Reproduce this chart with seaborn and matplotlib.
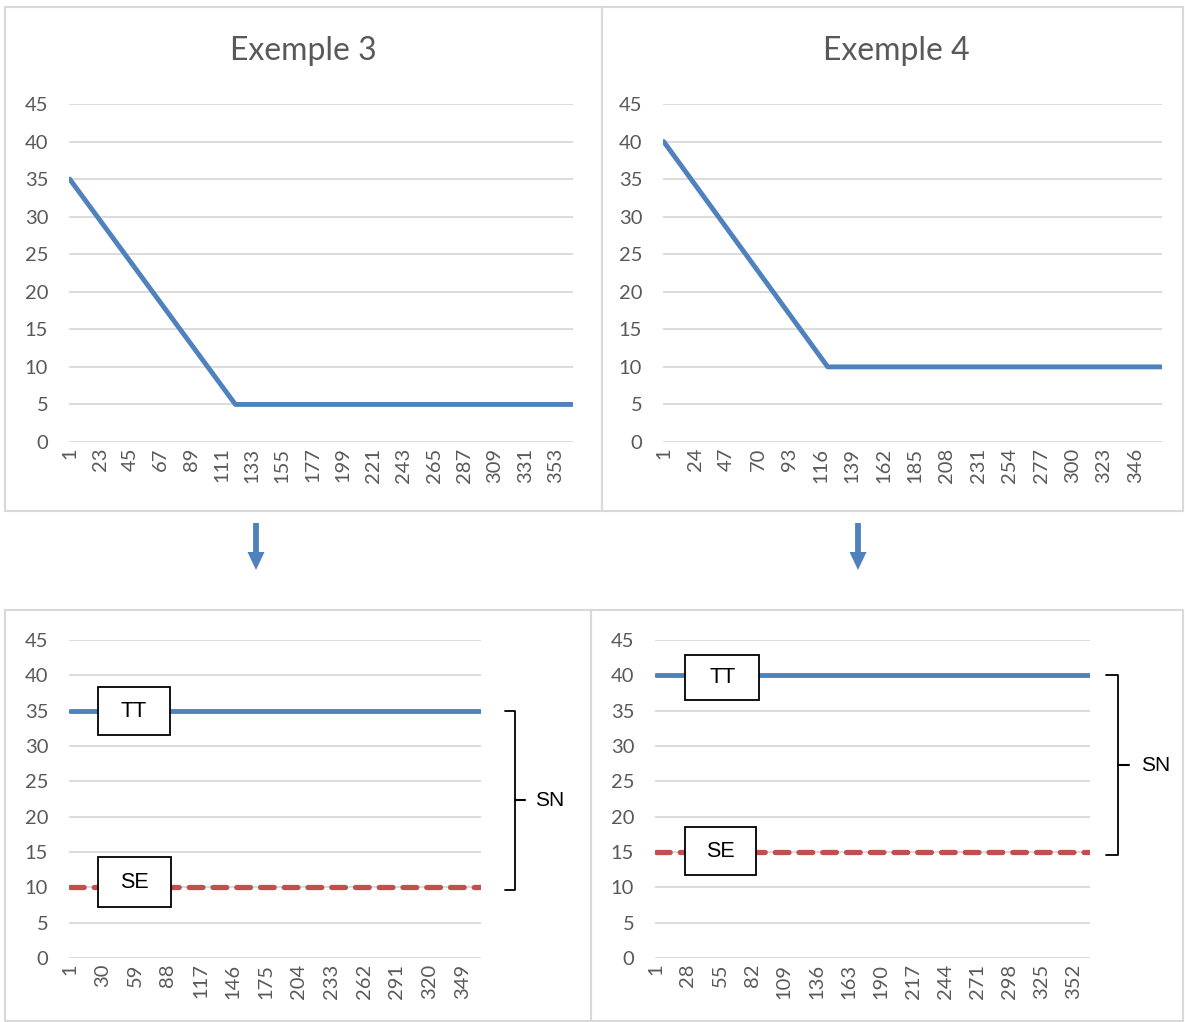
import numpy as np
import pandas as pd
import seaborn as sns
import matplotlib.pyplot as plt
from matplotlib.patches import Rectangle, FancyArrow
from matplotlib import transforms

# data (vertices of each line, day index 1..365)
ex3_days = [1, 121, 365]
ex3_values = [35, 5, 5]
ex4_days = [1, 121, 365]
ex4_values = [40, 10, 10]

flat_days = [1, 365]
ex3_tt = [35, 35]
ex3_se = [10, 10]
ex4_tt = [40, 40]
ex4_se = [15, 15]

# category labels shown on the x axes
ex3_top_ticks = [1, 23, 45, 67, 89, 111, 133, 155, 177, 199, 221, 243, 265, 287, 309, 331, 353]
ex4_top_ticks = [1, 24, 47, 70, 93, 116, 139, 162, 185, 208, 231, 254, 277, 300, 323, 346]
ex3_bot_ticks = [1, 30, 59, 88, 117, 146, 175, 204, 233, 262, 291, 320, 349]
ex4_bot_ticks = [1, 28, 55, 82, 109, 136, 163, 190, 217, 244, 271, 298, 325, 352]
y_ticks = [0, 5, 10, 15, 20, 25, 30, 35, 40, 45]

titles = ['Exemple 3', 'Exemple 4']

BLUE = '#4F81BD'
RED = '#C0504D'
GREY_TXT = '#595959'
GRID = '#D9D9D9'

sns.set_theme(style='white')
plt.rcParams['font.family'] = ['Lato', 'DejaVu Sans']

W, H = 1185, 1022
fig = plt.figure(figsize=(W / 100, H / 100), dpi=100)


def px_box(x0, y0, x1, y1):
    # pixel box (top-left origin) -> figure fraction [left, bottom, width, height]
    return [x0 / W, 1 - y1 / H, (x1 - x0) / W, (y1 - y0) / H]


def style_axis(ax, ticks):
    ax.set_xlim(0.5, 365.5)
    ax.set_ylim(0, 45)
    ax.set_yticks(y_ticks)
    ax.set_xticks(ticks)
    ax.set_xticklabels([str(t) for t in ticks], rotation=90)
    ax.tick_params(axis='y', length=0, pad=15, labelsize=14.5, labelcolor=GREY_TXT)
    ax.tick_params(axis='x', length=0, pad=4, labelsize=14.5, labelcolor=GREY_TXT)
    ax.yaxis.grid(True, color=GRID, linewidth=1.3)
    ax.xaxis.grid(False)
    ax.set_axisbelow(True)
    for s in ax.spines.values():
        s.set_visible(False)
    ax.set_xlabel('')
    ax.set_ylabel('')
    ax.patch.set_alpha(0)


# panel frames
for (x0, y0, x1, y1) in [(5, 7, 602, 511), (602, 7, 1183, 511), (5, 610, 591, 1021), (591, 610, 1183, 1021)]:
    fig.patches.append(Rectangle((x0 / W, 1 - y1 / H), (x1 - x0) / W, (y1 - y0) / H,
                                 transform=fig.transFigure, fill=False,
                                 edgecolor=GRID, linewidth=1.5, zorder=0))

# top charts
ax1 = fig.add_axes(px_box(69, 104, 573, 442))
ax2 = fig.add_axes(px_box(663, 104, 1162, 442))
top = [(ax1, ex3_days, ex3_values, ex3_top_ticks), (ax2, ex4_days, ex4_values, ex4_top_ticks)]
for ax, d, v, t in top:
    sns.lineplot(x=d, y=v, ax=ax, color=BLUE, linewidth=3.5, solid_capstyle='round')
    style_axis(ax, t)

fig.text(303 / W, 1 - 51 / H, titles[0], ha='center', va='center', fontsize=23, color=GREY_TXT)
fig.text(896 / W, 1 - 51 / H, titles[1], ha='center', va='center', fontsize=23, color=GREY_TXT)

# arrows between the rows
for xc in [256, 858]:
    fig.patches.append(FancyArrow(xc / W, 1 - 523 / H, 0, -(570 - 523) / H,
                                  width=5 / H, head_width=17 / W, head_length=18 / H,
                                  length_includes_head=True, transform=fig.transFigure,
                                  color=BLUE, linewidth=0))

# bottom charts
ax3 = fig.add_axes(px_box(69, 640, 481, 958))
ax4 = fig.add_axes(px_box(655, 640, 1090, 958))

bottom = [
    (ax3, ex3_tt, ex3_se, ex3_bot_ticks,
     [(26.6, 31.6, 63, 6.7, 'TT'), (26.6, 7.2, 64, 7.1, 'SE')],
     (1.058, 1.083, 1.107, 1.131)),
    (ax4, ex4_tt, ex4_se, ex4_bot_ticks,
     [(26, 36.5, 62, 6.4, 'TT'), (26, 11.7, 59, 6.8, 'SE')],
     (1.037, 1.064, 1.090, 1.117)),
]

for ax, tt, se, t, boxes, br in bottom:
    sns.lineplot(x=flat_days, y=tt, ax=ax, color=BLUE, linewidth=3.5, solid_capstyle='round')
    sns.lineplot(x=flat_days, y=se, ax=ax, color=RED, linewidth=3.8,
                 linestyle=(0, (2.6, 1.9)), dash_capstyle='round')
    style_axis(ax, t)
    for bx, by, bw, bh, label in boxes:
        ax.add_patch(Rectangle((bx, by), bw, bh, facecolor='white', edgecolor='black',
                               linewidth=1.3, zorder=5))
        ax.text(bx + bw / 2, by + bh / 2, label, ha='center', va='center', fontsize=15.5,
                family=['Liberation Sans'], color='black', zorder=6)

    # SN bracket
    trans = transforms.blended_transform_factory(ax.transAxes, ax.transData)
    x_arm, x_bar, x_nub, x_txt = br
    y_top, y_bot = tt[0], se[0] - 0.4
    y_mid = (y_top + y_bot) / 2
    ax.plot([x_arm, x_bar, x_bar, x_arm], [y_top, y_top, y_bot, y_bot], transform=trans,
            color='black', linewidth=1.3, clip_on=False)
    ax.plot([x_bar, x_nub], [y_mid, y_mid], transform=trans, color='black',
            linewidth=1.5, clip_on=False)
    ax.text(x_txt, y_mid, 'SN', transform=trans, ha='left', va='center', fontsize=15,
            family=['Liberation Sans'], color='black')

fig.savefig('out.png', dpi=100)
